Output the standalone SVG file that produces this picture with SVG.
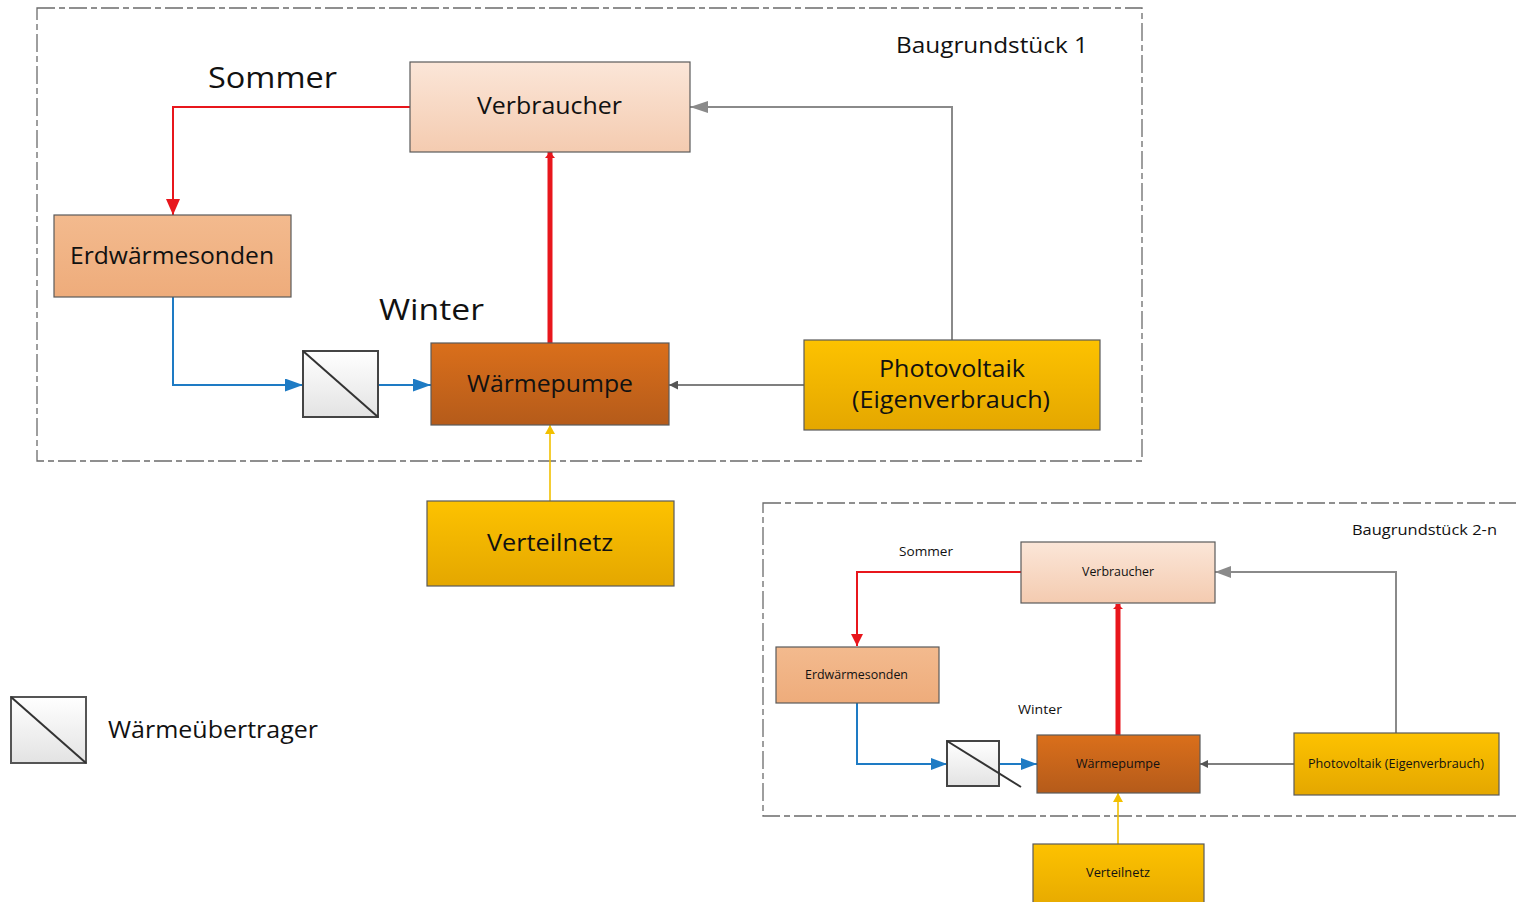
<svg xmlns="http://www.w3.org/2000/svg" width="1516" height="902" viewBox="0 0 1516 902">
<defs>
<style>
.frame{fill:none;stroke:#6b6b6b;stroke-width:1.3;stroke-dasharray:18 4 6 4}
.box{stroke:#5a5a5a;stroke-width:1.2}
.t{font-family:"Open Sans","Noto Sans","DejaVu Sans",sans-serif;fill:#111;text-anchor:middle}
.c{fill:none;stroke-linejoin:miter}
</style>
<linearGradient id="gV" x1="0" y1="0" x2="0" y2="1"><stop offset="0" stop-color="#fbe6d8"/><stop offset="1" stop-color="#f4cbb0"/></linearGradient>
<linearGradient id="gE" x1="0" y1="0" x2="0" y2="1"><stop offset="0" stop-color="#f3ba8e"/><stop offset="1" stop-color="#eeac7b"/></linearGradient>
<linearGradient id="gW" x1="0" y1="0" x2="0" y2="1"><stop offset="0" stop-color="#da6f1b"/><stop offset="1" stop-color="#b55b1a"/></linearGradient>
<linearGradient id="gY" x1="0" y1="0" x2="0" y2="1"><stop offset="0" stop-color="#fdc200"/><stop offset="1" stop-color="#e4a700"/></linearGradient>
<linearGradient id="gH" x1="0" y1="0" x2="0" y2="1"><stop offset="0" stop-color="#ffffff"/><stop offset="1" stop-color="#e3e3e3"/></linearGradient>
<marker id="aRed" markerUnits="userSpaceOnUse" markerWidth="16" markerHeight="14" refX="16" refY="7" orient="auto"><path d="M0,0 L16,7 L0,14 z" fill="#e8161c"/></marker>
<marker id="aRedT" markerUnits="userSpaceOnUse" markerWidth="6" markerHeight="10" refX="6" refY="5" orient="auto"><path d="M0,0 L6,5 L0,10 z" fill="#e8161c"/></marker>
<marker id="aGray" markerUnits="userSpaceOnUse" markerWidth="18" markerHeight="12" refX="18" refY="6" orient="auto"><path d="M0,0 L18,6 L0,12 z" fill="#8a8a8a"/></marker>
<marker id="aDark" markerUnits="userSpaceOnUse" markerWidth="9" markerHeight="9" refX="9" refY="4.5" orient="auto"><path d="M0,0 L9,4.5 L0,9 z" fill="#555"/></marker>
<marker id="aBlue" markerUnits="userSpaceOnUse" markerWidth="18" markerHeight="13" refX="18" refY="6.5" orient="auto"><path d="M0,0 L18,6.5 L0,13 z" fill="#1e7bc4"/></marker>
<marker id="aYel" markerUnits="userSpaceOnUse" markerWidth="9" markerHeight="10" refX="9" refY="5" orient="auto"><path d="M0,0 L9,5 L0,10 z" fill="#f2c000"/></marker>
<marker id="sRed" markerUnits="userSpaceOnUse" markerWidth="12" markerHeight="12" refX="12" refY="6" orient="auto"><path d="M0,0 L12,6 L0,12 z" fill="#e8161c"/></marker>
<marker id="sRedT" markerUnits="userSpaceOnUse" markerWidth="5" markerHeight="10" refX="5" refY="5" orient="auto"><path d="M0,0 L5,5 L0,10 z" fill="#e8161c"/></marker>
<marker id="sGray" markerUnits="userSpaceOnUse" markerWidth="16" markerHeight="12" refX="16" refY="6" orient="auto"><path d="M0,0 L16,6 L0,12 z" fill="#8a8a8a"/></marker>
<marker id="sDark" markerUnits="userSpaceOnUse" markerWidth="8" markerHeight="8" refX="8" refY="4" orient="auto"><path d="M0,0 L8,4 L0,8 z" fill="#555"/></marker>
<marker id="sBlue" markerUnits="userSpaceOnUse" markerWidth="16" markerHeight="12" refX="16" refY="6" orient="auto"><path d="M0,0 L16,6 L0,12 z" fill="#1e7bc4"/></marker>
<marker id="sYel" markerUnits="userSpaceOnUse" markerWidth="9" markerHeight="10" refX="9" refY="5" orient="auto"><path d="M0,0 L9,5 L0,10 z" fill="#f2c000"/></marker>
</defs>
<rect width="1516" height="902" fill="#ffffff"/>

<!-- Frame 1 -->
<g id="frame1">
<rect class="frame" x="37" y="8" width="1105" height="453"/>
<text class="t" x="992" y="53" font-size="21" textLength="192" lengthAdjust="spacingAndGlyphs">Baugrundstück 1</text>
<text class="t" x="272.5" y="88" font-size="29" textLength="129" lengthAdjust="spacingAndGlyphs">Sommer</text>
<text class="t" x="431.5" y="320" font-size="29" textLength="105" lengthAdjust="spacingAndGlyphs">Winter</text>
</g>

<!-- Connectors 1 -->
<g id="connectors1">
<path class="c" d="M410,107 H173 V215" stroke="#e8161c" stroke-width="2" marker-end="url(#aRed)"/>
<path class="c" d="M550,343 V152" stroke="#e8161c" stroke-width="5" marker-end="url(#aRedT)"/>
<path class="c" d="M952,340 V107 H690" stroke="#8a8a8a" stroke-width="2" marker-end="url(#aGray)"/>
<path class="c" d="M804,385 H669" stroke="#555" stroke-width="1.3" marker-end="url(#aDark)"/>
<path class="c" d="M173,297 V385 H303" stroke="#1e7bc4" stroke-width="2" marker-end="url(#aBlue)"/>
<path class="c" d="M378,385 H431" stroke="#1e7bc4" stroke-width="2" marker-end="url(#aBlue)"/>
<path class="c" d="M550,501 V425" stroke="#f2c000" stroke-width="1.6" marker-end="url(#aYel)"/>
</g>

<g id="verbraucher1">
<rect class="box" x="410" y="62" width="280" height="90" fill="url(#gV)"/>
<text class="t" x="549.5" y="114" font-size="23" textLength="145" lengthAdjust="spacingAndGlyphs">Verbraucher</text>
</g>
<g id="erdwaermesonden1">
<rect class="box" x="54" y="215" width="237" height="82" fill="url(#gE)"/>
<text class="t" x="172" y="264" font-size="23" textLength="204" lengthAdjust="spacingAndGlyphs">Erdwärmesonden</text>
</g>
<g id="waermepumpe1">
<rect class="box" x="431" y="343" width="238" height="82" fill="url(#gW)"/>
<text class="t" x="550" y="392" font-size="23" textLength="166" lengthAdjust="spacingAndGlyphs">Wärmepumpe</text>
</g>
<g id="photovoltaik1">
<rect class="box" x="804" y="340" width="296" height="90" fill="url(#gY)"/>
<text class="t" x="952" y="377" font-size="23" textLength="146" lengthAdjust="spacingAndGlyphs">Photovoltaik</text>
<text class="t" x="951" y="408" font-size="23" textLength="198" lengthAdjust="spacingAndGlyphs">(Eigenverbrauch)</text>
</g>
<g id="verteilnetz1">
<rect class="box" x="427" y="501" width="247" height="85" fill="url(#gY)"/>
<text class="t" x="550" y="551" font-size="23" textLength="126" lengthAdjust="spacingAndGlyphs">Verteilnetz</text>
</g>
<g id="hx1">
<rect x="303" y="351" width="75" height="66" fill="url(#gH)" stroke="#444" stroke-width="2"/>
<line x1="303" y1="351" x2="378" y2="417" stroke="#333" stroke-width="2"/>
</g>

<!-- Legend -->
<g id="legend">
<rect x="11" y="697" width="75" height="66" fill="url(#gH)" stroke="#555" stroke-width="2"/>
<line x1="11" y1="697" x2="86" y2="763" stroke="#333" stroke-width="2"/>
<text x="108" y="738" font-family="Open Sans, Noto Sans, DejaVu Sans, sans-serif" font-size="23" fill="#111" textLength="210" lengthAdjust="spacingAndGlyphs">Wärmeübertrager</text>
</g>

<!-- Frame 2 -->
<g id="frame2">
<rect class="frame" x="763" y="503" width="780" height="313"/>
<text class="t" x="1424.5" y="535" font-size="15" textLength="145" lengthAdjust="spacingAndGlyphs">Baugrundstück 2-n</text>
<text class="t" x="926" y="556" font-size="12.5" textLength="54" lengthAdjust="spacingAndGlyphs">Sommer</text>
<text class="t" x="1040" y="714" font-size="12.5" textLength="44" lengthAdjust="spacingAndGlyphs">Winter</text>
</g>

<g id="connectors2">
<path class="c" d="M1021,572 H857 V646" stroke="#e8161c" stroke-width="2" marker-end="url(#sRed)"/>
<path class="c" d="M1118,735 V604" stroke="#e8161c" stroke-width="5" marker-end="url(#sRedT)"/>
<path class="c" d="M1396,733 V572 H1215" stroke="#8a8a8a" stroke-width="2" marker-end="url(#sGray)"/>
<path class="c" d="M1294,764 H1200" stroke="#555" stroke-width="1.3" marker-end="url(#sDark)"/>
<path class="c" d="M857,703 V764 H947" stroke="#1e7bc4" stroke-width="2" marker-end="url(#sBlue)"/>
<path class="c" d="M999,764 H1037" stroke="#1e7bc4" stroke-width="2" marker-end="url(#sBlue)"/>
<path class="c" d="M1118,844 V793" stroke="#f2c000" stroke-width="1.6" marker-end="url(#sYel)"/>
</g>

<g id="verbraucher2">
<rect class="box" x="1021" y="542" width="194" height="61" fill="url(#gV)"/>
<text class="t" x="1118" y="576" font-size="12.5" textLength="72" lengthAdjust="spacingAndGlyphs">Verbraucher</text>
</g>
<g id="erdwaermesonden2">
<rect class="box" x="776" y="647" width="163" height="56" fill="url(#gE)"/>
<text class="t" x="856.5" y="679" font-size="12.5" textLength="103" lengthAdjust="spacingAndGlyphs">Erdwärmesonden</text>
</g>
<g id="waermepumpe2">
<rect class="box" x="1037" y="735" width="163" height="58" fill="url(#gW)"/>
<text class="t" x="1118" y="768" font-size="12.5" textLength="84" lengthAdjust="spacingAndGlyphs">Wärmepumpe</text>
</g>
<g id="photovoltaik2">
<rect class="box" x="1294" y="733" width="205" height="62" fill="url(#gY)"/>
<text class="t" x="1396" y="768" font-size="12.5" textLength="176" lengthAdjust="spacingAndGlyphs">Photovoltaik (Eigenverbrauch)</text>
</g>
<g id="verteilnetz2">
<rect class="box" x="1033" y="844" width="171" height="70" fill="url(#gY)"/>
<text class="t" x="1118" y="877" font-size="12.5" textLength="64" lengthAdjust="spacingAndGlyphs">Verteilnetz</text>
</g>
<g id="hx2">
<rect x="947" y="741" width="52" height="45" fill="url(#gH)" stroke="#444" stroke-width="2"/>
<line x1="947" y1="741" x2="1021" y2="787" stroke="#333" stroke-width="2"/>
</g>
</svg>
